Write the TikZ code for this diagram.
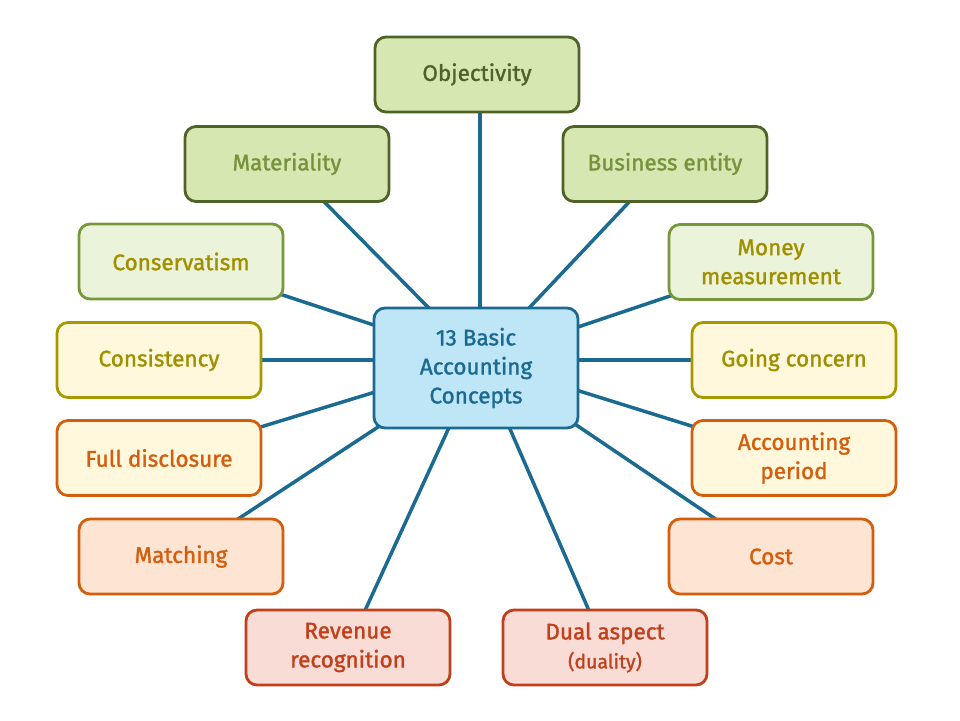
\documentclass[tikz,border=0pt]{standalone}
\usepackage{fontspec}
\setmainfont{Fira Sans}[FakeBold=1.4]
\usetikzlibrary{backgrounds}
\definecolor{cblue}{HTML}{1B6A92}
\definecolor{cbluefill}{HTML}{BEE6F6}
\definecolor{gdark}{HTML}{4F6228}
\definecolor{gfill}{HTML}{D7E7B2}
\definecolor{gtext}{HTML}{77933C}
\definecolor{lgborder}{HTML}{77983A}
\definecolor{lgfill}{HTML}{EBF3DA}
\definecolor{ytext}{HTML}{A09000}
\definecolor{yborder}{HTML}{A89800}
\definecolor{yfill}{HTML}{FFF8DC}
\definecolor{orange}{HTML}{D55E0E}
\definecolor{ofill}{HTML}{FDE4D3}
\definecolor{red}{HTML}{C0401C}
\definecolor{rfill}{HTML}{F9DCD5}
\tikzset{
  box/.style={rectangle, rounded corners=11pt, line width=2.8pt, minimum width=204pt,
    minimum height=75pt, align=center, font=\fontsize{22.5}{29}\selectfont, inner sep=2pt},
  centerbox/.style={box, draw=cblue, fill=cbluefill, text=cblue, minimum height=120pt},
  gA/.style={box, draw=gdark, fill=gfill, text=gdark},
  gB/.style={box, draw=gdark, fill=gfill, text=gtext},
  gC/.style={box, draw=lgborder, fill=lgfill, text=ytext},
  yA/.style={box, draw=yborder, fill=yfill, text=ytext},
  oA/.style={box, draw=orange, fill=yfill, text=orange},
  oB/.style={box, draw=orange, fill=ofill, text=orange},
  rA/.style={box, draw=red, fill=rfill, text=red},
  link/.style={draw=cblue, line width=3.5pt}
}
\begin{document}
\begin{tikzpicture}[x=1pt,y=-1pt]
\useasboundingbox (0,0) rectangle (960,720);
\node[centerbox] (c) at (476,368) {13 Basic\\Accounting\\Concepts};
\coordinate (hub) at (480,360);
\node[gA] (obj) at (477,74.5) {Objectivity};
\node[gB] (mat) at (287,164) {Materiality};
\node[gB] (bus) at (665,164) {Business entity};
\node[gC] (con) at (181,261.5) {Conservatism};
\node[gC] (mon) at (771,262) {Money\\measurement};
\node[yA] (cons) at (159,360) {Consistency};
\node[yA] (go) at (794,360) {Going concern};
\node[oA] (full) at (159,458) {Full disclosure};
\node[oA] (acc) at (794,458) {Accounting\\period};
\node[oB] (matc) at (181,556.5) {Matching};
\node[oB] (cost) at (771,556.5) {Cost};
\node[rA] (rev) at (348,647.5) {Revenue\\recognition};
\node[rA] (dual) at (605,647.5) {Dual aspect\\{\fontsize{19.5}{24}\selectfont(duality)}};
\begin{scope}[on background layer]
\draw[link] (hub) -- (hub |- obj.south);
\foreach \n in {mat,bus,con,mon,cons,go,full,acc,matc,cost,rev,dual}
  \draw[link] (hub) -- (\n.center);
\end{scope}
\end{tikzpicture}
\end{document}
